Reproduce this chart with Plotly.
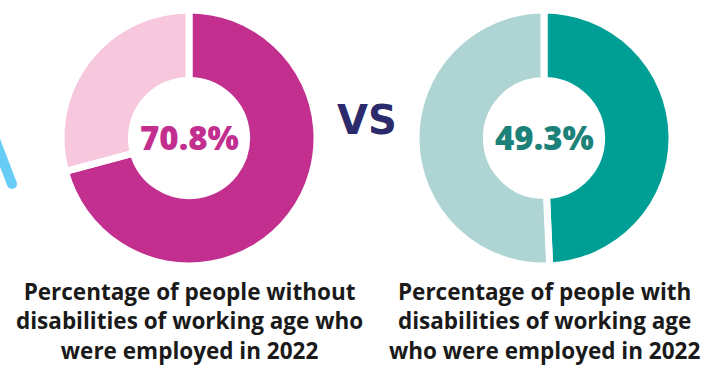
import plotly.graph_objects as go

W, H = 726, 369

# Employment rates, 2022 (percent of working-age people in employment)
groups = ["without disabilities", "with disabilities"]
employed_pct = [70.8, 49.3]
slice_names = ["Employed", "Not employed"]

caption_text = [
    "Percentage of people without<br>disabilities of working age who<br>were employed in 2022",
    "Percentage of people with<br>disabilities of working age<br>who were employed in 2022",
]

main_colors = ["#C22F8F", "#009F96"]
light_colors = ["#F7C7DE", "#AED5D4"]
value_text_colors = ["#C22F8F", "#1C8279"]

# pixel layout of the two rings
centers_px = [(189, 138), (544, 138)]
radius_px = 128


def px_x(x):
    return x / W


def px_y(y):
    return 1 - y / H


fig = go.Figure()

for i, pct in enumerate(employed_pct):
    cx, cy = centers_px[i]
    fig.add_trace(go.Pie(
        labels=slice_names,
        values=[pct, round(100 - pct, 1)],
        hole=0.45,
        sort=False,
        direction="clockwise",
        rotation=0,
        textinfo="none",
        hoverinfo="label+value",
        marker=dict(colors=[main_colors[i], light_colors[i]],
                    line=dict(color="white", width=7)),
        domain=dict(x=[px_x(cx - radius_px), px_x(cx + radius_px)],
                    y=[px_y(cy + radius_px), px_y(cy - radius_px)]),
        showlegend=False,
    ))
    # value in the middle of the ring
    fig.add_annotation(
        x=px_x(cx), y=px_y(cy - 1), xref="paper", yref="paper",
        text=f"{pct:.1f}%", showarrow=False,
        xanchor="center", yanchor="middle",
        font=dict(family="Open Sans", size=33, color=value_text_colors[i], weight=800),
    )
    # caption below the ring
    fig.add_annotation(
        x=px_x(cx), y=px_y(321), xref="paper", yref="paper",
        text=caption_text[i], showarrow=False,
        xanchor="center", yanchor="middle", align="center",
        font=dict(family="Open Sans", size=22.5, color="#1A1A1A", weight=700),
    )

# "VS" between the rings
fig.add_annotation(
    x=px_x(367), y=px_y(120), xref="paper", yref="paper",
    text="VS", showarrow=False, xanchor="center", yanchor="middle",
    font=dict(family="DejaVu Sans", size=40, color="#2B2A6B", weight=900),
)

# decorative light-blue stroke at the left edge
fig.add_shape(
    type="line", xref="paper", yref="paper",
    x0=px_x(-8), y0=px_y(132), x1=px_x(12), y1=px_y(184),
    line=dict(color="#68CDF6", width=10),
)
fig.add_shape(
    type="circle", xref="paper", yref="paper",
    x0=px_x(7), y0=px_y(189), x1=px_x(17), y1=px_y(179),
    fillcolor="#68CDF6", line=dict(width=0),
)

fig.update_layout(
    width=W, height=H,
    margin=dict(l=0, r=0, t=0, b=0),
    paper_bgcolor="white", plot_bgcolor="white",
)

fig.write_html("out.html")
